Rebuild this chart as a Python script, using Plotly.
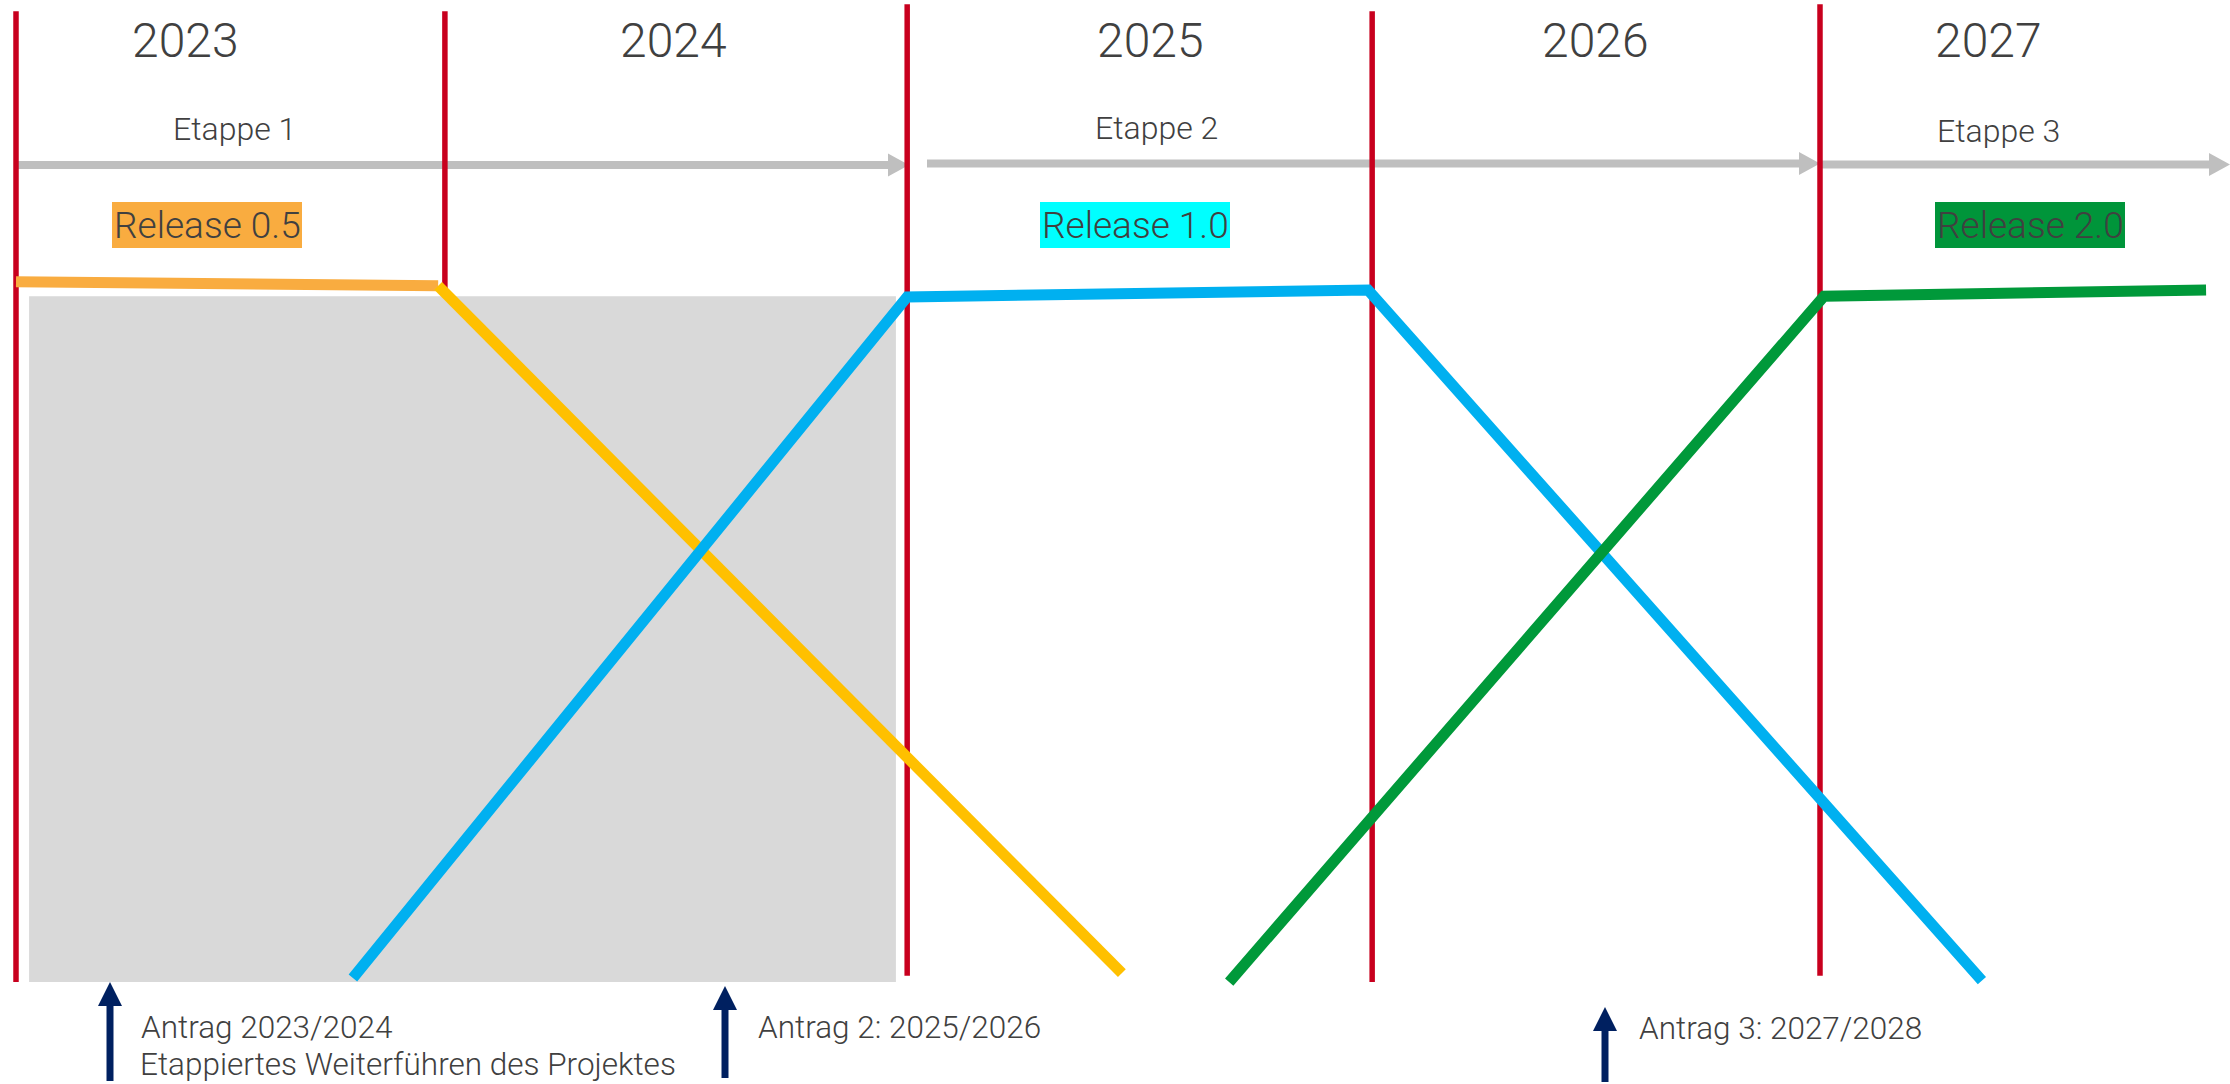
import plotly.graph_objects as go

W, H = 2230, 1084

# ---------------- data ----------------
years = ["2023", "2024", "2025", "2026", "2027"]
# year boundaries on the time axis (fractional years as drawn)
year_bounds = [2023.0, 2023.951, 2024.976, 2026.007, 2027.0]
bound_top = [140.4, 140.4, 141.4, 140.4, 141.4]
bound_bottom = [-0.3, -0.3, 0.6, -0.3, 0.6]

etappen = ["Etappe 1", "Etappe 2", "Etappe 3"]
releases = ["Release 0.5", "Release 1.0", "Release 2.0"]
antraege = ["Antrag 2023/2024", "Antrag 2: 2025/2026", "Antrag 3: 2027/2028"]
antrag_note = "Etappiertes Weiterführen des Projektes"

# level of each release over time (0 = phased out, 100 = full)
rel05_x = [2023.0, 2023.936]
rel05_y = [101.2, 100.6]
rel05_out_x = [2023.936, 2025.452]
rel05_out_y = [100.6, 1.0]
rel10_x = [2023.747, 2024.976, 2025.998, 2027.359]
rel10_y = [0.3, 99.0, 100.0, -0.1]
rel20_x = [2025.690, 2027.009, 2027.856]
rel20_y = [-0.3, 99.1, 100.0]

# grey "current project" block
block_x = [2023.029, 2024.951]
block_y = [-0.3, 99.1]

# ---------------- styles / layout positions ----------------
RED = "#C8001E"
GREY_ARROW = "#BFBFBF"
NAVY = "#002060"
TXT = "#404040"
FONT = "Roboto"
rel_colors = ["#F9AC40", "#00FFFF", "#00953A"]

def px(x):
    return x / W

def py(y):
    return 1 - y / H

year_label_px = [185, 673, 1150, 1595, 1988]
year_label_py = 41
etappe_px = [234, 1156, 1998]
etappe_py = [129, 128, 131]
etappe_arrows = [(16, 909, 165), (927, 1820, 163.5), (1820, 2230, 164.5)]
release_boxes = [(112, 302), (1040, 1230), (1935, 2125)]
release_box_y = (202, 248)
navy_arrows = [(110, 982, 1081), (725, 986, 1078), (1605, 1007, 1082)]
antrag_px = [139, 756, 1637]
antrag_py = [1027, 1027, 1028]

fig = go.Figure()

fig.add_trace(go.Scatter(x=rel05_x, y=rel05_y, mode="lines",
                         line=dict(color="#F9AC40", width=11), hoverinfo="skip"))
fig.add_trace(go.Scatter(x=rel05_out_x, y=rel05_out_y, mode="lines",
                         line=dict(color="#FFC000", width=11), hoverinfo="skip"))
fig.add_trace(go.Scatter(x=rel10_x, y=rel10_y, mode="lines",
                         line=dict(color="#00B0F0", width=11), hoverinfo="skip"))
fig.add_trace(go.Scatter(x=rel20_x, y=rel20_y, mode="lines",
                         line=dict(color="#00993A", width=11), hoverinfo="skip"))

shapes = []
# grey stage arrows
for x0, x1, y in etappe_arrows:
    head = 21
    shapes.append(dict(type="line", xref="paper", yref="paper",
                       x0=px(x0), x1=px(x1 - head + 2), y0=py(y), y1=py(y),
                       line=dict(color=GREY_ARROW, width=8), layer="below"))
    path = (f"M {px(x1 - head)} {py(y - 11.5)} L {px(x1)} {py(y)} "
            f"L {px(x1 - head)} {py(y + 11.5)} Z")
    shapes.append(dict(type="path", xref="paper", yref="paper", path=path,
                       fillcolor=GREY_ARROW, line=dict(width=0), layer="below"))
# red year boundaries
for xb, yt, yb in zip(year_bounds, bound_top, bound_bottom):
    shapes.append(dict(type="line", xref="x", yref="y", x0=xb, x1=xb, y0=yb, y1=yt,
                       line=dict(color=RED, width=5.5), layer="below"))
# grey block
shapes.append(dict(type="rect", xref="x", yref="y", x0=block_x[0], x1=block_x[1],
                   y0=block_y[0], y1=block_y[1], fillcolor="#D9D9D9",
                   line=dict(width=0), layer="below"))
# release boxes
for (bx0, bx1), col in zip(release_boxes, rel_colors):
    shapes.append(dict(type="rect", xref="paper", yref="paper",
                       x0=px(bx0), x1=px(bx1), y0=py(release_box_y[1]), y1=py(release_box_y[0]),
                       fillcolor=col, line=dict(width=0), layer="below"))
# navy arrows
for ax, tip, bottom in navy_arrows:
    hl = 24
    shapes.append(dict(type="line", xref="paper", yref="paper",
                       x0=px(ax), x1=px(ax), y0=py(tip + hl - 2), y1=py(bottom),
                       line=dict(color=NAVY, width=7), layer="below"))
    path = (f"M {px(ax - 12)} {py(tip + hl)} L {px(ax)} {py(tip)} "
            f"L {px(ax + 12)} {py(tip + hl)} Z")
    shapes.append(dict(type="path", xref="paper", yref="paper", path=path,
                       fillcolor=NAVY, line=dict(width=0), layer="below"))

annotations = []
for label, x in zip(years, year_label_px):
    annotations.append(dict(text=label, x=px(x), y=py(year_label_py), xref="paper", yref="paper",
                            xanchor="center", yanchor="middle", showarrow=False,
                            font=dict(family=FONT, size=48, color=TXT, weight=300)))
for label, x, y in zip(etappen, etappe_px, etappe_py):
    annotations.append(dict(text=label, x=px(x), y=py(y), xref="paper", yref="paper",
                            xanchor="center", yanchor="middle", showarrow=False,
                            font=dict(family=FONT, size=32, color=TXT, weight=300)))
for label, (bx0, bx1) in zip(releases, release_boxes):
    annotations.append(dict(text=label, x=px((bx0 + bx1) / 2),
                            y=py(sum(release_box_y) / 2), xref="paper", yref="paper",
                            xanchor="center", yanchor="middle", showarrow=False,
                            font=dict(family=FONT, size=37, color=TXT, weight=300)))
for label, x, y in zip(antraege, antrag_px, antrag_py):
    annotations.append(dict(text=label, x=px(x), y=py(y), xref="paper", yref="paper",
                            xanchor="left", yanchor="middle", align="left", showarrow=False,
                            font=dict(family=FONT, size=31.5, color=TXT, weight=300)))
annotations.append(dict(text=antrag_note, x=px(antrag_px[0]), y=py(1083.5),
                        xref="paper", yref="paper", xanchor="left", yanchor="bottom",
                        align="left", showarrow=False, borderpad=0,
                        font=dict(family=FONT, size=31.5, color=TXT, weight=300)))

x_range = [2023 - 16 / 451, 2023 + 2214 / 451]
y_range = [(980 - 1084) / 6.9, 980 / 6.9]

fig.update_layout(
    width=W, height=H,
    margin=dict(l=0, r=0, t=0, b=0),
    paper_bgcolor="white", plot_bgcolor="white",
    showlegend=False,
    xaxis=dict(range=x_range, visible=False, fixedrange=True),
    yaxis=dict(range=y_range, visible=False, fixedrange=True),
    shapes=shapes, annotations=annotations,
)

fig.write_html("out.html", config={"displayModeBar": False},
               post_script="document.body.style.margin='0';document.body.style.overflow='hidden';")
